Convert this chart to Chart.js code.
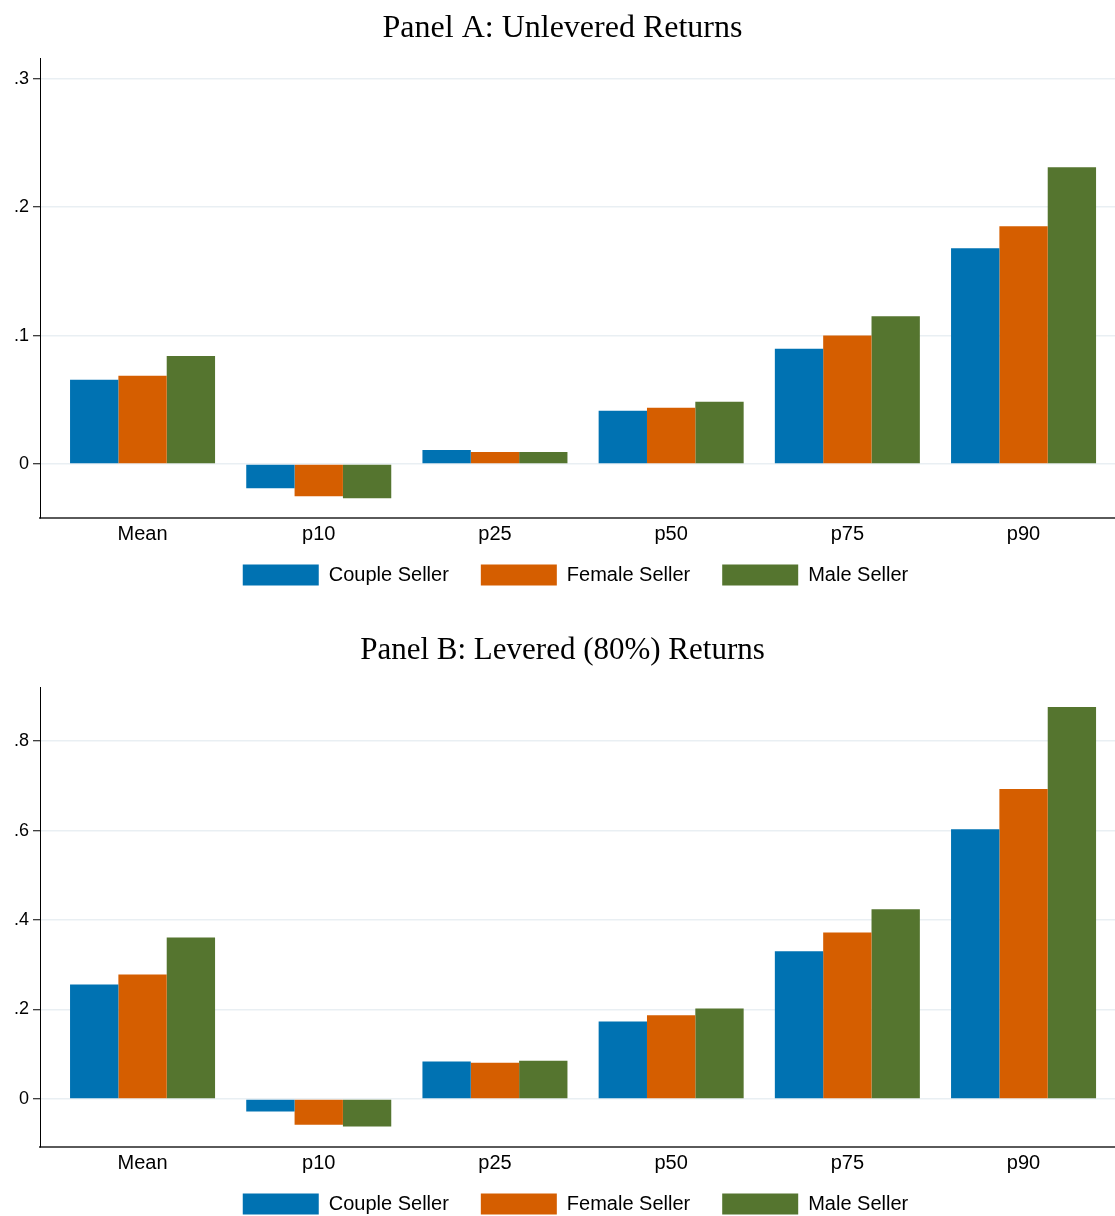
<!DOCTYPE html>
<html lang="en">
<head>
  <meta charset="UTF-8" />
  <title>Seller Returns</title>
  <script src="https://cdn.jsdelivr.net/npm/chart.js"></script>
  <style>
    html, body {
      margin: 0;
      padding: 0;
      background: #fff;
      overflow: hidden;
    }
    canvas {
      display: block;
    }
  </style>
</head>
<body>
  <canvas id="panelA" width="1115" height="613"></canvas>
  <canvas id="panelB" width="1115" height="629"></canvas>

  <script>
    // data
    const categories = ["Mean", "p10", "p25", "p50", "p75", "p90"];
    const seriesNames = ["Couple Seller", "Female Seller", "Male Seller"];
    const seriesColors = ["#0072b2", "#d55e00", "#55752f"];

    const coupleA = [0.0656, -0.0188, 0.0109, 0.0414, 0.0898, 0.168];
    const femaleA = [0.0688, -0.025, 0.0094, 0.0438, 0.1, 0.185];
    const maleA = [0.084, -0.0266, 0.0094, 0.0484, 0.115, 0.231];

    const coupleB = [0.2556, -0.0284, 0.0837, 0.173, 0.33, 0.603];
    const femaleB = [0.278, -0.0576, 0.0807, 0.187, 0.372, 0.693];
    const maleB = [0.361, -0.062, 0.085, 0.202, 0.424, 0.876];

    const yTicksA = [0, 0.1, 0.2, 0.3];
    const yTickLabelsA = ["0", ".1", ".2", ".3"];
    const yTicksB = [0, 0.2, 0.4, 0.6, 0.8];
    const yTickLabelsB = ["0", ".2", ".4", ".6", ".8"];

    const sansFont = "'Liberation Sans', Arial, sans-serif";
    const serifFont = "'Liberation Serif', 'Times New Roman', serif";

    // nudge title / legend to where the original put them
    const nudge = {
      id: "nudge",
      afterLayout(chart) {
        const lg = chart.legend;
        lg.left += 18; lg.right += 18;
        lg.top -= 17.5; lg.bottom -= 17.5;
        const tb = chart.titleBlock;
        tb.left += 5; tb.right += 5;
      }
    };

    function makePanel(canvasId, title, values, yMin, yMax, ticks, tickLabels, titleSize, titlePad) {
      const datasets = values.map((vals, s) => ({
        label: seriesNames[s],
        data: vals.map((v, i) => ({ x: i, y: v })),
        backgroundColor: seriesColors[s],
        borderWidth: 0,
        categoryPercentage: 0.823,
        barPercentage: 1.0
      }));

      new Chart(document.getElementById(canvasId), {
        type: "bar",
        data: { datasets: datasets },
        plugins: [nudge],
        options: {
          responsive: false,
          animation: false,
          layout: { padding: 0 },
          plugins: {
            title: {
              display: true,
              text: title,
              color: "#000",
              font: { family: serifFont, size: titleSize, weight: "normal", lineHeight: 36 / titleSize },
              padding: titlePad
            },
            legend: {
              position: "bottom",
              labels: {
                boxWidth: 76,
                boxHeight: 21,
                padding: 32,
                color: "#000",
                font: { family: sansFont, size: 20 }
              }
            },
            tooltip: { enabled: false }
          },
          scales: {
            x: {
              type: "linear",
              offset: false,
              min: -0.582,
              max: 5.519,
              grid: { display: false, drawTicks: false, offset: false },
              border: { display: true, color: "#5a5a5a", width: 2 },
              afterBuildTicks: (scale) => {
                scale.ticks = categories.map((c, i) => ({ value: i }));
              },
              ticks: {
                padding: 4,
                color: "#000",
                maxRotation: 0,
                autoSkip: false,
                font: { family: sansFont, size: 20 },
                callback: (v) => categories[v]
              }
            },
            y: {
              min: yMin,
              max: yMax,
              afterFit: (scale) => { scale.width = 40; },
              afterBuildTicks: (scale) => {
                scale.ticks = ticks.map(v => ({ value: v }));
              },
              grid: {
                color: "#e9eff3",
                lineWidth: 1.5,
                tickColor: "#000",
                tickLength: 7,
                tickWidth: 1
              },
              border: { display: true, color: "#000", width: 1 },
              ticks: {
                padding: 4,
                color: "#000",
                font: { family: sansFont, size: 18 },
                callback: (v) => tickLabels[ticks.indexOf(v)]
              }
            }
          }
        }
      });
    }

    makePanel("panelA", "Panel A: Unlevered Returns", [coupleA, femaleA, maleA],
      -0.042, 0.316, yTicksA, yTickLabelsA, 32, { top: 11, bottom: 11 });
    makePanel("panelB", "Panel B: Levered (80%) Returns", [coupleB, femaleB, maleB],
      -0.1076, 0.921, yTicksB, yTickLabelsB, 31, { top: 20, bottom: 18 });
  </script>
</body>
</html>
